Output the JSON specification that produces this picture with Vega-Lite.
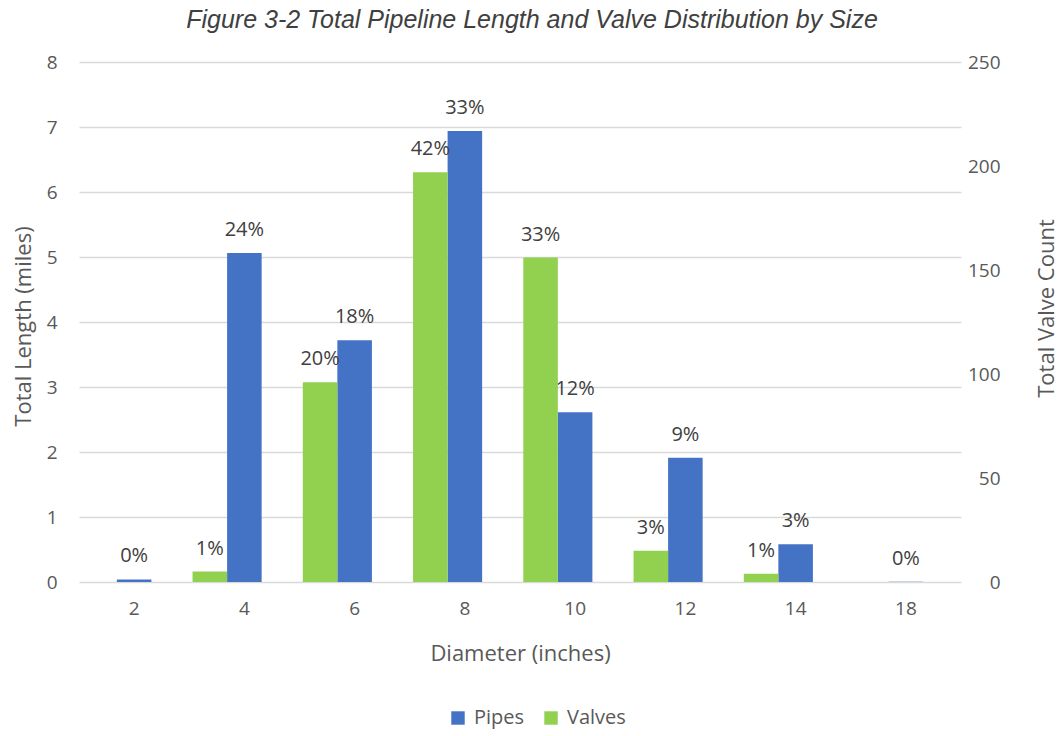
{
  "$schema": "https://vega.github.io/schema/vega-lite/v6.json",
  "width": 882,
  "height": 520,
  "autosize": {"type": "none"},
  "padding": {"left": 79, "top": 62, "right": 99, "bottom": 154},
  "background": "white",
  "title": {
    "text": "Figure 3-2 Total Pipeline Length and Valve Distribution by Size",
    "font": "Liberation Sans",
    "fontStyle": "italic",
    "fontWeight": "normal",
    "fontSize": 25,
    "color": "#404040",
    "anchor": "middle",
    "frame": "group",
    "dx": 12,
    "offset": 20
  },
  "config": {
    "view": {"stroke": null},
    "axis": {
      "labelFont": "Open Sans",
      "labelFontSize": 19,
      "labelColor": "#595959",
      "titleFont": "Open Sans",
      "titleFontSize": 22,
      "titleFontWeight": "normal",
      "titleColor": "#595959",
      "gridColor": "#d9d9d9",
      "gridWidth": 1.5,
      "domain": false,
      "ticks": false,
      "tickSize": 0
    },
    "legend": {
      "labelFont": "Open Sans",
      "labelFontSize": 20,
      "labelColor": "#595959"
    }
  },
  "data": {
    "values": [
      {"size": "2", "series": "Pipes", "value": 0.04, "label": "0%"},
      {"size": "4", "series": "Pipes", "value": 5.06, "label": "24%"},
      {"size": "6", "series": "Pipes", "value": 3.72, "label": "18%"},
      {"size": "8", "series": "Pipes", "value": 6.94, "label": "33%"},
      {"size": "10", "series": "Pipes", "value": 2.61, "label": "12%"},
      {"size": "12", "series": "Pipes", "value": 1.91, "label": "9%"},
      {"size": "14", "series": "Pipes", "value": 0.58, "label": "3%"},
      {"size": "18", "series": "Pipes", "value": 0.005, "label": "0%"},
      {"size": "4", "series": "Valves", "value": 5, "label": "1%"},
      {"size": "6", "series": "Valves", "value": 96, "label": "20%"},
      {"size": "8", "series": "Valves", "value": 197, "label": "42%"},
      {"size": "10", "series": "Valves", "value": 156, "label": "33%"},
      {"size": "12", "series": "Valves", "value": 15, "label": "3%"},
      {"size": "14", "series": "Valves", "value": 4, "label": "1%"}
    ]
  },
  "encoding": {
    "x": {
      "field": "size",
      "type": "nominal",
      "sort": null,
      "scale": {"domain": ["2", "4", "6", "8", "10", "12", "14", "18"], "paddingInner": 0.06, "paddingOuter": 0.03},
      "axis": {"title": "Diameter (inches)", "labelAngle": 0, "grid": false, "labelPadding": 17, "titleY": 71, "titleBaseline": "middle"}
    },
    "xOffset": {
      "field": "series",
      "type": "nominal",
      "scale": {"domain": ["Valves", "Pipes", "Gap"], "paddingInner": 0, "paddingOuter": 0}
    }
  },
  "layer": [
    {
      "transform": [{"filter": "datum.series == 'Pipes'"}],
      "encoding": {
        "y": {
          "field": "value",
          "type": "quantitative",
          "scale": {"domain": [0, 8], "nice": false},
          "axis": {
            "orient": "left",
            "title": "Total Length (miles)",
            "values": [0, 1, 2, 3, 4, 5, 6, 7, 8],
            "grid": true,
            "labelPadding": 22,
            "titleX": -56,
            "titleY": 264,
            "titleAngle": -90,
            "titleAlign": "center",
            "titleBaseline": "middle"
          }
        }
      },
      "layer": [
        {
          "mark": {"type": "bar"},
          "encoding": {
            "color": {
              "field": "series",
              "type": "nominal",
              "scale": {"domain": ["Pipes", "Valves"], "range": ["#4472C4", "#92D050"]},
              "legend": {
                "title": null,
                "orient": "none",
                "legendX": 369,
                "legendY": 646,
                "direction": "horizontal",
                "symbolType": "square",
                "symbolSize": 180,
                "symbolStrokeWidth": 0,
                "columnPadding": 16,
                "labelOffset": 6
              }
            }
          }
        },
        {
          "mark": {"type": "text", "font": "Open Sans", "fontSize": 20, "color": "#404040", "baseline": "alphabetic", "dy": -17},
          "encoding": {"text": {"field": "label"}}
        }
      ]
    },
    {
      "transform": [{"filter": "datum.series == 'Valves'"}],
      "encoding": {
        "y": {
          "field": "value",
          "type": "quantitative",
          "scale": {"domain": [0, 250], "nice": false},
          "axis": {
            "orient": "right",
            "title": "Total Valve Count",
            "values": [0, 50, 100, 150, 200, 250],
            "grid": false,
            "labelAlign": "right",
            "labelPadding": 39,
            "titleX": 85,
            "titleY": 246,
            "titleAngle": -90,
            "titleAlign": "center",
            "titleBaseline": "middle"
          }
        }
      },
      "layer": [
        {
          "mark": {"type": "bar"},
          "encoding": {
            "color": {"field": "series", "type": "nominal"}
          }
        },
        {
          "mark": {"type": "text", "font": "Open Sans", "fontSize": 20, "color": "#404040", "baseline": "alphabetic", "dy": -17},
          "encoding": {"text": {"field": "label"}}
        }
      ]
    }
  ],
  "resolve": {"scale": {"y": "independent"}}
}
